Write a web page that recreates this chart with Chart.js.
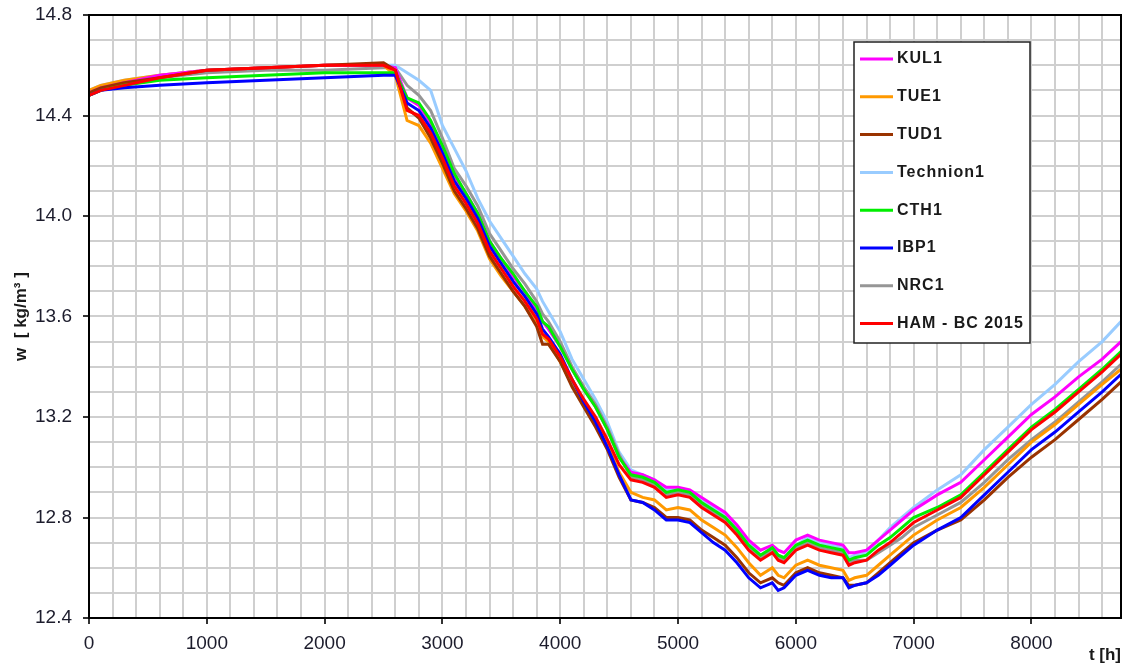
<!DOCTYPE html>
<html>
<head>
<meta charset="utf-8">
<script src="https://cdn.jsdelivr.net/npm/chart.js@4"></script>
<style>
  html, body { margin: 0; padding: 0; background: #fff; }
</style>
</head>
<body>
<canvas id="moistureChart" width="1129" height="666"></canvas>
<script>
// time axis [h]
const hours = [0, 100, 300, 600, 1000, 1500, 2000, 2500,
    2600, 2700, 2800, 2900, 3000, 3100, 3200, 3300, 3400, 3500, 3600, 3700, 3800, 3850,
    3900, 4000, 4100, 4200, 4300, 4400, 4500, 4600, 4700, 4800, 4900, 5000, 5100, 5200,
    5300, 5400, 5500, 5600, 5700, 5800, 5850, 5900, 6000, 6100, 6200, 6300, 6400, 6450,
    6500, 6600, 6700, 6800, 6900, 7000, 7200, 7400, 7600, 7800, 8000, 8200, 8400, 8600, 8760];

// moisture content w [kg/m3] per participant
const kul1 = [14.49, 14.51, 14.53, 14.56, 14.58, 14.59, 14.60, 14.60,
    14.59, 14.47, 14.44, 14.37, 14.27, 14.16, 14.09, 14.01, 13.90, 13.83, 13.76, 13.70, 13.63, 13.58,
    13.55, 13.48, 13.39, 13.31, 13.24, 13.15, 13.04, 12.98, 12.97, 12.95, 12.92, 12.92, 12.91, 12.88,
    12.85, 12.82, 12.77, 12.71, 12.67, 12.69, 12.67, 12.66, 12.71, 12.73, 12.71, 12.70, 12.69, 12.66,
    12.66, 12.67, 12.71, 12.75, 12.79, 12.83, 12.89, 12.94, 13.03, 13.12, 13.21, 13.28, 13.36, 13.43, 13.50];

const tue1 = [14.50, 14.52, 14.54, 14.56, 14.58, 14.59, 14.60, 14.60,
    14.56, 14.38, 14.36, 14.29, 14.19, 14.09, 14.02, 13.94, 13.83, 13.76, 13.70, 13.64, 13.57, 13.52,
    13.50, 13.42, 13.33, 13.25, 13.18, 13.09, 12.98, 12.90, 12.88, 12.87, 12.83, 12.84, 12.83, 12.79,
    12.76, 12.73, 12.68, 12.62, 12.57, 12.60, 12.57, 12.56, 12.61, 12.63, 12.61, 12.60, 12.59, 12.55,
    12.56, 12.57, 12.61, 12.65, 12.69, 12.73, 12.79, 12.84, 12.92, 13.01, 13.10, 13.17, 13.25, 13.33, 13.39];

const tud1 = [14.49, 14.51, 14.53, 14.55, 14.58, 14.59, 14.60, 14.61,
    14.58, 14.43, 14.39, 14.31, 14.21, 14.10, 14.03, 13.95, 13.84, 13.77, 13.70, 13.64, 13.56, 13.49,
    13.49, 13.42, 13.32, 13.24, 13.16, 13.07, 12.96, 12.87, 12.86, 12.84, 12.80, 12.80, 12.79, 12.75,
    12.72, 12.69, 12.64, 12.58, 12.54, 12.56, 12.54, 12.53, 12.58, 12.60, 12.58, 12.57, 12.56, 12.53,
    12.53, 12.54, 12.58, 12.62, 12.66, 12.70, 12.75, 12.79, 12.87, 12.96, 13.04, 13.11, 13.19, 13.27, 13.34];

const technion1 = [14.50, 14.52, 14.54, 14.56, 14.58, 14.59, 14.60, 14.60,
    14.60, 14.57, 14.54, 14.50, 14.36, 14.27, 14.18, 14.07, 13.98, 13.91, 13.84, 13.77, 13.71, 13.66,
    13.62, 13.54, 13.43, 13.35, 13.27, 13.18, 13.06, 12.99, 12.97, 12.95, 12.91, 12.91, 12.90, 12.87,
    12.84, 12.81, 12.76, 12.70, 12.65, 12.68, 12.65, 12.64, 12.69, 12.72, 12.70, 12.69, 12.68, 12.64,
    12.65, 12.66, 12.71, 12.76, 12.80, 12.84, 12.91, 12.97, 13.07, 13.16, 13.25, 13.33, 13.42, 13.50, 13.58];

const cth1 = [14.48, 14.50, 14.52, 14.54, 14.55, 14.56, 14.57, 14.57,
    14.57, 14.47, 14.45, 14.38, 14.28, 14.17, 14.09, 14.01, 13.90, 13.83, 13.77, 13.70, 13.64, 13.58,
    13.56, 13.48, 13.39, 13.31, 13.24, 13.15, 13.04, 12.97, 12.96, 12.94, 12.90, 12.91, 12.90, 12.86,
    12.83, 12.80, 12.75, 12.69, 12.65, 12.68, 12.65, 12.64, 12.69, 12.71, 12.69, 12.68, 12.67, 12.63,
    12.64, 12.65, 12.69, 12.72, 12.76, 12.80, 12.84, 12.89, 12.98, 13.07, 13.16, 13.23, 13.31, 13.39, 13.46];

const ibp1 = [14.48, 14.50, 14.51, 14.52, 14.53, 14.54, 14.55, 14.56,
    14.56, 14.45, 14.42, 14.35, 14.25, 14.14, 14.07, 13.99, 13.88, 13.81, 13.74, 13.68, 13.61, 13.55,
    13.52, 13.45, 13.35, 13.26, 13.18, 13.08, 12.97, 12.87, 12.86, 12.83, 12.79, 12.79, 12.78, 12.74,
    12.70, 12.67, 12.62, 12.56, 12.52, 12.54, 12.51, 12.52, 12.57, 12.59, 12.57, 12.56, 12.56, 12.52,
    12.53, 12.54, 12.57, 12.61, 12.65, 12.69, 12.75, 12.80, 12.89, 12.98, 13.07, 13.14, 13.22, 13.30, 13.37];

const nrc1 = [14.49, 14.51, 14.53, 14.55, 14.57, 14.58, 14.58, 14.59,
    14.59, 14.52, 14.48, 14.42, 14.31, 14.19, 14.12, 14.04, 13.93, 13.86, 13.79, 13.73, 13.66, 13.61,
    13.58, 13.50, 13.40, 13.32, 13.25, 13.16, 13.05, 12.96, 12.95, 12.93, 12.89, 12.90, 12.89, 12.85,
    12.82, 12.79, 12.74, 12.68, 12.64, 12.67, 12.64, 12.63, 12.68, 12.70, 12.68, 12.67, 12.66, 12.62,
    12.63, 12.63, 12.66, 12.69, 12.72, 12.76, 12.81, 12.86, 12.94, 13.03, 13.11, 13.18, 13.26, 13.34, 13.41];

const hamBc2015 = [14.48, 14.50, 14.52, 14.55, 14.58, 14.59, 14.60, 14.60,
    14.58, 14.42, 14.40, 14.33, 14.23, 14.12, 14.05, 13.97, 13.86, 13.79, 13.72, 13.66, 13.59, 13.53,
    13.51, 13.44, 13.35, 13.27, 13.20, 13.11, 13.01, 12.95, 12.94, 12.92, 12.88, 12.89, 12.88, 12.84,
    12.81, 12.78, 12.73, 12.67, 12.63, 12.66, 12.63, 12.62, 12.67, 12.69, 12.67, 12.66, 12.65, 12.61,
    12.62, 12.63, 12.67, 12.70, 12.74, 12.78, 12.83, 12.88, 12.97, 13.06, 13.15, 13.22, 13.30, 13.38, 13.45];

const seriesLabels = ['KUL1', 'TUE1', 'TUD1', 'Technion1', 'CTH1', 'IBP1', 'NRC1', 'HAM - BC 2015'];
const seriesValues = [kul1, tue1, tud1, technion1, cth1, ibp1, nrc1, hamBc2015];
const seriesColors = ['#ff00ff', '#ff9900', '#993300', '#99ccff', '#00ee00', '#0000ff', '#969696', '#ff0000'];
// which line ends up on top (lower = drawn later)
const drawOrder = [5, 6, 4, 8, 3, 2, 7, 0];

// axis range and grid steps
const xMax = 8760, xGridStep = 200, xLabelStep = 1000;
const yMin = 12.4, yMax = 14.8, yGridStep = 0.1;

const datasets = seriesLabels.map(function(label, i) {
    return {
        label: label,
        data: hours.map(function(h, j) { return { x: h, y: seriesValues[i][j] }; }),
        borderColor: seriesColors[i],
        backgroundColor: seriesColors[i],
        borderWidth: 3,
        pointRadius: 0,
        tension: 0,
        fill: false,
        order: drawOrder[i]
    };
});

// frame round the plot area + boxed legend inside it
const frameAndLegend = {
    id: 'frameAndLegend',
    afterDraw: function(chart) {
        const ctx = chart.ctx;
        const a = chart.chartArea;
        ctx.save();
        ctx.strokeStyle = '#000';
        ctx.lineWidth = 2;
        ctx.strokeRect(a.left, a.top, a.right - a.left, a.bottom - a.top);

        const boxX = a.right - 267, boxY = a.top + 27, boxW = 176, boxH = 301;
        ctx.fillStyle = '#fff';
        ctx.fillRect(boxX, boxY, boxW, boxH);
        ctx.lineWidth = 1.5;
        ctx.strokeStyle = '#222';
        ctx.strokeRect(boxX, boxY, boxW, boxH);

        ctx.font = 'bold 16px "Liberation Sans", Arial, sans-serif';
        ctx.letterSpacing = '1px';
        ctx.textBaseline = 'middle';
        ctx.textAlign = 'left';
        seriesLabels.forEach(function(label, i) {
            const y = boxY + 17 + i * 37.8;
            ctx.strokeStyle = seriesColors[i];
            ctx.lineWidth = 3;
            ctx.beginPath();
            ctx.moveTo(boxX + 6, y);
            ctx.lineTo(boxX + 39, y);
            ctx.stroke();
            ctx.fillStyle = '#1a1a1a';
            ctx.fillText(label, boxX + 43, y);
        });
        ctx.restore();
    }
};

const tickFont = { family: '"Liberation Sans", Arial, sans-serif', size: 19 };

function isMajorX(v) { return Math.round(v) % xLabelStep === 0; }
function isMajorY(v) { return Math.round(v * 10) % 4 === 0; }

const ctx = document.getElementById('moistureChart').getContext('2d');
const moistureChart = new Chart(ctx, {
    type: 'line',
    data: { datasets: datasets },
    options: {
        responsive: false,
        animation: false,
        layout: { padding: { top: 15, right: 8, left: 0, bottom: 0 } },
        plugins: {
            legend: { display: false },
            tooltip: { enabled: false }
        },
        scales: {
            x: {
                type: 'linear',
                min: 0,
                max: xMax,
                afterFit: function(scale) {
                    scale.height = 48;
                    scale.paddingLeft = 0;
                    scale.paddingRight = 0;
                },
                // chart.js spreads the step evenly when range/step is almost whole, so set the grid ticks here
                afterBuildTicks: function(scale) {
                    const t = [];
                    for (let v = 0; v < xMax; v += xGridStep) t.push({ value: v });
                    t.push({ value: xMax });
                    scale.ticks = t;
                },
                border: { display: true, color: '#000', width: 2 },
                grid: {
                    color: '#cfcfcf',
                    lineWidth: 2,
                    tickLength: 6,
                    tickColor: function(c) {
                        return c.tick && isMajorX(c.tick.value) ? '#333' : 'rgba(0,0,0,0)';
                    }
                },
                ticks: {
                    autoSkip: false,
                    maxRotation: 0,
                    minRotation: 0,
                    padding: 8,
                    color: '#1c1c2c',
                    font: tickFont,
                    callback: function(v) { return isMajorX(v) ? String(Math.round(v)) : ''; }
                },
                title: {
                    display: true,
                    text: 't [h]',
                    align: 'end',
                    color: '#1a1a1a',
                    padding: { top: 0, bottom: 0 },
                    font: { family: '"Liberation Sans", Arial, sans-serif', size: 17, weight: 'bold' }
                }
            },
            y: {
                min: yMin,
                max: yMax,
                afterFit: function(scale) {
                    scale.width = 89;
                    scale.paddingTop = 0;
                    scale.paddingBottom = 0;
                },
                border: { display: true, color: '#000', width: 2 },
                grid: {
                    color: '#cfcfcf',
                    lineWidth: 2,
                    tickLength: 6,
                    tickColor: function(c) {
                        return c.tick && isMajorY(c.tick.value) ? '#333' : 'rgba(0,0,0,0)';
                    }
                },
                ticks: {
                    stepSize: yGridStep,
                    autoSkip: false,
                    padding: 11,
                    color: '#1c1c2c',
                    font: tickFont,
                    callback: function(v) { return isMajorY(v) ? v.toFixed(1) : ''; }
                },
                title: {
                    display: true,
                    text: 'w  [ kg/m³ ]',
                    color: '#1a1a1a',
                    padding: { top: 11, bottom: 0 },
                    font: { family: '"Liberation Sans", Arial, sans-serif', size: 17, weight: 'bold' }
                }
            }
        }
    },
    plugins: [frameAndLegend]
});
</script>
</body>
</html>
